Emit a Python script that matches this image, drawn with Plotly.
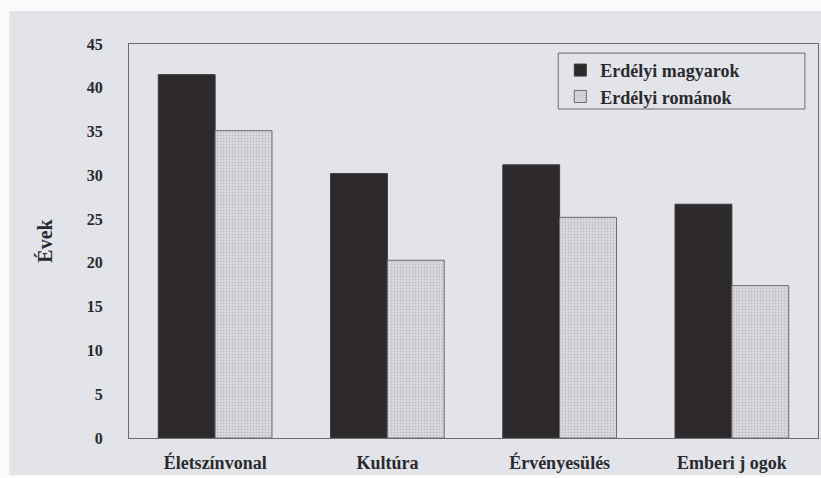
import plotly.graph_objects as go

categories = ["Életszínvonal", "Kultúra", "Érvényesülés", "Emberi j ogok"]
magyarok = [41.5, 30.2, 31.2, 26.7]
romanok = [35.1, 20.3, 25.2, 17.4]
series_names = ["Erdélyi magyarok", "Erdélyi románok"]
y_ticks = [0, 5, 10, 15, 20, 25, 30, 35, 40, 45]

BG = "#e3e4e9"
PAGE = "#fbfbfc"
FONT = "Liberation Serif, Times New Roman, serif"
TXT = "#2a2a2e"
LINE = "#6a6a70"

fig = go.Figure()
fig.add_trace(go.Bar(
    x=categories, y=magyarok, name=series_names[0],
    marker=dict(color="#2e2a2c", line=dict(color="#3a3a3e", width=1)),
))
fig.add_trace(go.Bar(
    x=categories, y=romanok, name=series_names[1],
    marker=dict(color="#d6d6da", line=dict(color=LINE, width=1),
                pattern=dict(shape=".", size=3, solidity=0.3, fgcolor="#9a9aa0", bgcolor="#dcdce0")),
))

# scanned page area (white border around it, as in the reference)
fig.add_shape(type="rect", xref="paper", yref="paper",
              x0=-0.174, x1=1.1, y0=-0.094, y1=1.084,
              line=dict(width=0), fillcolor=BG, layer="below")

# legend frame (wider than the auto legend box, as in the reference)
fig.add_shape(type="rect", xref="paper", yref="paper",
              x0=0.623, x1=0.981, y0=0.835, y1=0.977,
              line=dict(color=LINE, width=1), fillcolor="rgba(0,0,0,0)", layer="above")

fig.update_layout(
    width=821, height=478,
    barmode="group", bargap=0.34, bargroupgap=0,
    paper_bgcolor=PAGE, plot_bgcolor="rgba(0,0,0,0)",
    margin=dict(l=129, r=3, t=44, b=40),
    font=dict(family=FONT, color=TXT),
    showlegend=True,
    legend=dict(
        x=0.626, y=0.98, xanchor="left", yanchor="top",
        bgcolor="rgba(0,0,0,0)", borderwidth=0,
        font=dict(family=FONT, size=18, color=TXT, weight="bold"),
        itemwidth=30, tracegroupgap=0,
    ),
    xaxis=dict(
        showline=True, linecolor=LINE, linewidth=1, mirror=True,
        ticks="", tickfont=dict(family=FONT, size=18, weight="bold", color=TXT),
        ticklabelstandoff=8,
    ),
    yaxis=dict(
        range=[0, 45], tickvals=y_ticks, showgrid=False, zeroline=False,
        showline=True, linecolor=LINE, linewidth=1, mirror=True,
        ticks="", tickfont=dict(family=FONT, size=16, weight="bold", color=TXT),
        ticklabelstandoff=22,
        title=dict(text="Évek", font=dict(family=FONT, size=20, weight="bold", color=TXT), standoff=28),
    ),
)

fig.write_html(
    "out.html",
    config={"displayModeBar": False},
    post_script="document.body.style.margin='0';document.body.style.overflow='hidden';"
                "document.body.style.background='" + PAGE + "';",
)
